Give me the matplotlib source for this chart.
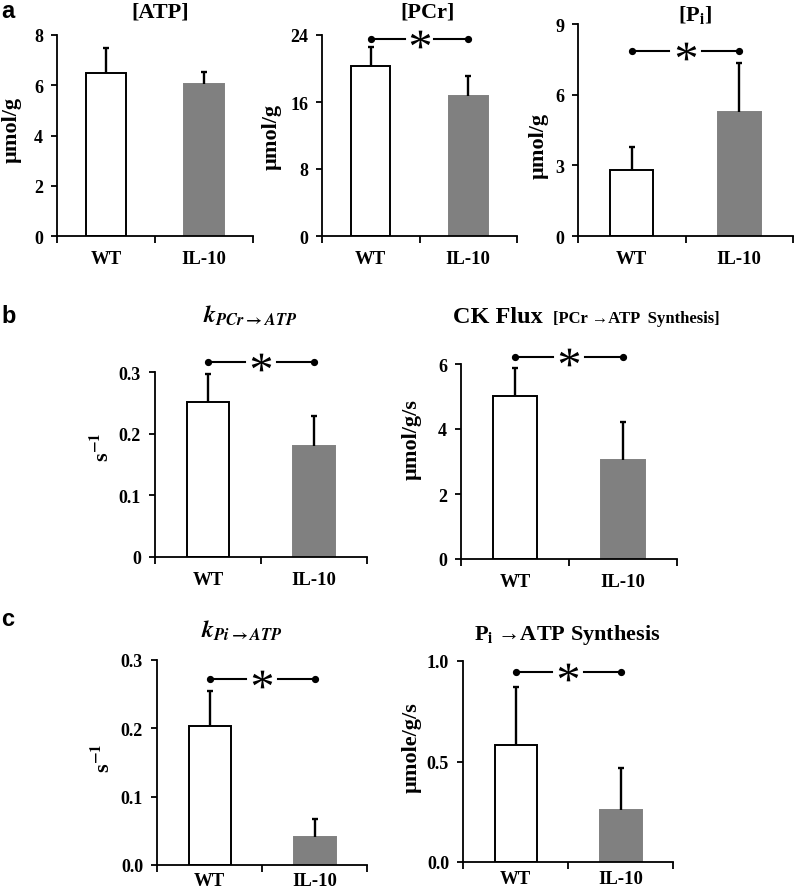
import matplotlib
matplotlib.use("Agg")
import matplotlib.pyplot as plt
import numpy as np
from matplotlib.textpath import TextPath
from matplotlib.font_manager import FontProperties
from matplotlib.path import Path

plt.rcParams['font.family'] = ['Liberation Serif', 'DejaVu Serif']
plt.rcParams['font.weight'] = 'bold'
plt.rcParams['mathtext.fontset'] = 'stix'

# ---------------- data ----------------
groups = ['WT', 'IL-10']
atp_mean = [6.50, 6.06]
atp_err = [0.99, 0.48]
pcr_mean = [20.3, 16.75]
pcr_err = [2.3, 2.35]
pi_mean = [2.81, 5.28]
pi_err = [0.98, 2.05]
kpcr_mean = [0.251, 0.180]
kpcr_err = [0.046, 0.048]
ckflux_mean = [5.02, 3.06]
ckflux_err = [0.87, 1.16]
kpi_mean = [0.203, 0.041]
kpi_err = [0.052, 0.027]
pisyn_mean = [0.583, 0.258]
pisyn_err = [0.286, 0.209]

# y positions of significance brackets (data units)
sig_pcr, sig_pi, sig_kpcr, sig_ck, sig_kpi, sig_pisyn = 23.5, 7.84, 0.317, 6.23, 0.272, 0.947

W, H = 796, 895
fig = plt.figure(figsize=(W / 100, H / 100), dpi=100)

# asterisk marker built from the serif font glyph, centred
_tp = TextPath((0, 0), '*', size=10,
               prop=FontProperties(family='Liberation Serif', weight='normal'))
_codes = np.array(_tp.codes)
_v = _tp.vertices.copy()
_real = _codes != Path.CLOSEPOLY
_cx = (_v[_real, 0].min() + _v[_real, 0].max()) / 2
_cy = (_v[_real, 1].min() + _v[_real, 1].max()) / 2
_v[:, 0] -= _cx
_v[:, 1] -= _cy
_v[~_real] = 0.0
STAR = Path(_v, _codes)


def ax_at(l, r, t, b):
    return fig.add_axes([l / W, 1 - b / H, (r - l) / W, (b - t) / H])


def ftext(x, y, s, **kw):
    return fig.text(x / W, 1 - y / H, s, **kw)


def bar_panel(ax, means, errs, ymax, yticks, yticklabels, sig=None, xpad=10):
    x = [0, 1]
    colors = ['white', '#808080']
    edges = ['black', '#808080']
    ax.bar(x, means, width=0.4, color=colors, edgecolor=edges, linewidth=1.4, zorder=2)
    tops = [m + e for m, e in zip(means, errs)]
    ax.vlines(x, means, tops, color='black', lw=1.7, zorder=3)
    ax.plot(x, tops, linestyle='none', marker='_', ms=4, mew=1.7, color='black', zorder=3)
    ax.set_xlim(-0.5, 1.5)
    ax.set_ylim(0, ymax)
    ax.spines['top'].set_visible(False)
    ax.spines['right'].set_visible(False)
    for s in ['left', 'bottom']:
        ax.spines[s].set_linewidth(1.3)
    ax.set_yticks(yticks)
    ax.set_yticklabels(yticklabels, fontsize=13, fontweight='bold')
    ax.tick_params(axis='y', direction='out', length=4, width=1.3, pad=6)
    ax.set_xticks(x)
    ax.set_xticklabels(groups, fontsize=13.5, fontweight='bold')
    ax.tick_params(axis='x', which='major', length=0, pad=xpad)
    ax.set_xticks([-0.5, 0.5, 1.5], minor=True)
    ax.tick_params(axis='x', which='minor', direction='out', length=5, width=1.3)
    if sig is not None:
        g = 0.15
        ax.plot([0, 0.5 - g], [sig, sig], color='black', lw=1.5, clip_on=False)
        ax.plot([0.5 + g, 1], [sig, sig], color='black', lw=1.5, clip_on=False)
        ax.plot([0, 1], [sig, sig], 'o', color='black', ms=4.2, clip_on=False)
        ax.plot([0.5], [sig], marker=STAR, color='black', ms=14, mew=0, clip_on=False,
                linestyle='none')


# ---------------- row a ----------------
a1 = ax_at(57, 253, 36, 237)
bar_panel(a1, atp_mean, atp_err, 8, [0, 2, 4, 6, 8], ['0', '2', '4', '6', '8'])
a2 = ax_at(322, 517, 36, 237)
bar_panel(a2, pcr_mean, pcr_err, 24, [0, 8, 16, 24], ['0', '8', '16', '24'], sig_pcr)
a3 = ax_at(578, 793, 25, 237)
bar_panel(a3, pi_mean, pi_err, 9, [0, 3, 6, 9], ['0', '3', '6', '9'], sig_pi)

# ---------------- row b ----------------
b1 = ax_at(155, 367, 373, 558)
bar_panel(b1, kpcr_mean, kpcr_err, 0.3, [0, 0.1, 0.2, 0.3], ['0', '0.1', '0.2', '0.3'], sig_kpcr)
b2 = ax_at(461, 677, 365, 560)
bar_panel(b2, ckflux_mean, ckflux_err, 6, [0, 2, 4, 6], ['0', '2', '4', '6'], sig_ck)

# ---------------- row c ----------------
c1 = ax_at(157, 367, 661, 866)
bar_panel(c1, kpi_mean, kpi_err, 0.3, [0, 0.1, 0.2, 0.3], ['0.0', '0.1', '0.2', '0.3'], sig_kpi, xpad=5)
c2 = ax_at(463, 673, 662, 863)
bar_panel(c2, pisyn_mean, pisyn_err, 1.0, [0, 0.5, 1.0], ['0.0', '0.5', '1.0'], sig_pisyn, xpad=6)

# ---------------- panel letters ----------------
for s, y in [('a', 0), ('b', 305), ('c', 608)]:
    ftext(1, y, s, fontsize=17, fontweight='bold', family=['Liberation Sans'], va='top', ha='left')

# ---------------- titles ----------------
ftext(160, 13, '[ATP]', fontsize=16, fontweight='bold', ha='center', va='center')
ftext(428, 13, '[PCr]', fontsize=16, fontweight='bold', ha='center', va='center')
ftext(695, 15, r'[P$_{\mathbf{i}}$]', fontsize=16, fontweight='bold', ha='center', va='center')
ftext(250, 316, r'$\mathbfit{k}_{PCr\rightarrow ATP}$', fontsize=17, ha='center', va='center')
ftext(453, 323, 'CK Flux', fontsize=17.5, fontweight='bold', ha='left', va='baseline')
ftext(553, 323, '[PCr \u2192ATP  Synthesis]', fontsize=12, fontweight='bold', ha='left', va='baseline')
ftext(242, 631, r'$\mathbfit{k}_{Pi\rightarrow ATP}$', fontsize=17, ha='center', va='center')
ftext(567, 640, r'P$_{\mathbf{i}}$' + '\u2009\u2192ATP Synthesis', fontsize=16, fontweight='bold',
      ha='center', va='baseline')

# ---------------- y labels ----------------
ylab = dict(fontsize=16, fontweight='bold', rotation=90, ha='center', va='center')
ftext(12, 130, 'µmol/g', **ylab)
ftext(272, 137, 'µmol/g', **ylab)
ftext(539, 146, 'µmol/g', **ylab)
ftext(102, 447, r's$^{\mathbf{-1}}$', **ylab)
ftext(412, 440, 'µmol/g/s', **ylab)
ftext(103, 758, r's$^{\mathbf{-1}}$', **ylab)
ftext(412, 748, 'µmole/g/s', **ylab)

fig.savefig('out.png', dpi=100, facecolor='white')
